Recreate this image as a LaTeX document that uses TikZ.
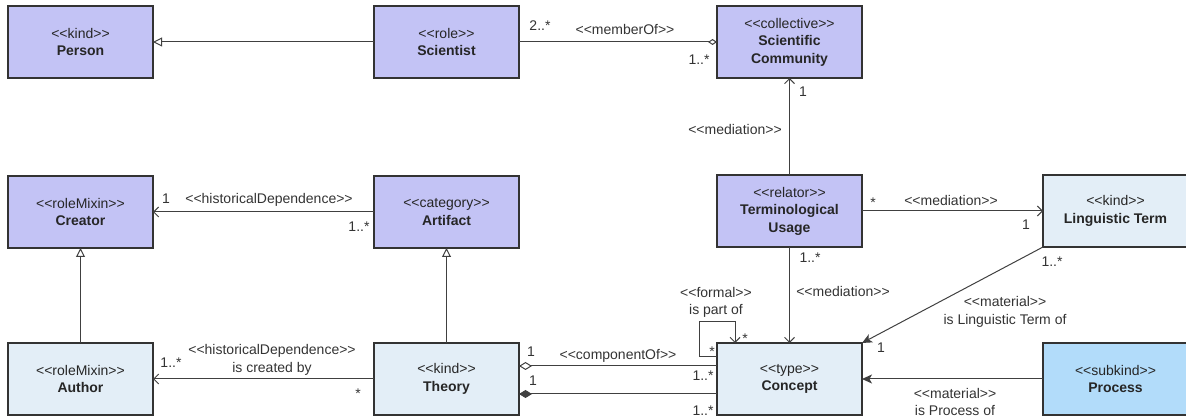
\documentclass[tikz,border=0pt]{standalone}
\usepackage{fontspec}
\setmainfont{Liberation Sans}
\usetikzlibrary{arrows.meta,positioning}
\definecolor{umlpurple}{RGB}{195,195,245}
\definecolor{umlpale}{RGB}{227,238,247}
\definecolor{umlsky}{RGB}{178,220,250}
\newcommand\stereo[1]{<\kern0pt<#1>\kern0pt>}
\tikzset{
  cls/.style    = {rectangle, draw=black!80, line width=1.2pt, fill=umlpurple,
                   minimum width=145pt, minimum height=72pt, outer sep=0pt,
                   align=center, text=black!85, inner sep=2pt,
                   font=\fontsize{14}{17.5}\selectfont},
  paleclass/.style = {cls, fill=umlpale},
  skyclass/.style  = {cls, fill=umlsky},
  lbl/.style    = {inner sep=0pt, text=black!80, text height=10pt, text depth=3pt,
                   font=\fontsize{14}{17.5}\selectfont},
  lbltwo/.style = {inner sep=0pt, text=black!80, align=center,
                   font=\fontsize{14}{17.5}\selectfont},
  conn/.style   = {draw=black!75, line width=1pt},
  gen/.style    = {conn, -{Triangle[open, length=9pt, width=9pt]}},
  assoc/.style  = {conn, -{Straight Barb[length=5pt, width=10pt]}},
  mat/.style    = {conn, -{Stealth[length=10pt, width=9pt, inset=2.5pt]}},
  member/.style = {conn, -{Diamond[open, length=9pt, width=6pt]}},
  agg/.style    = {conn, -{Diamond[open, length=13pt, width=8pt]}},
  comp/.style   = {conn, -{Diamond[length=13pt, width=8pt]}}
}
\begin{document}
\begin{tikzpicture}[x=1pt, y=-1pt]
  \useasboundingbox (0,0) rectangle (1186,419);
  \node[cls] (person) at (80.5,42) {\stereo{kind}\\\textbf{Person}};
  \node[cls, right=221pt of person] (scientist) {\stereo{role}\\\textbf{Scientist}};
  \node[cls, right=198pt of scientist] (community) {\stereo{collective}\\\textbf{Scientific}\\\textbf{Community}};
  \node[cls, below=98pt of person] (creator) {\stereo{roleMixin}\\\textbf{Creator}};
  \node[cls, right=221pt of creator] (artifact) {\stereo{category}\\\textbf{Artifact}};
  \node[paleclass, below=95pt of creator] (author) {\stereo{roleMixin}\\\textbf{Author}};
  \node[paleclass, below=95pt of artifact] (theory) {\stereo{kind}\\\textbf{Theory}};
  \node[cls, below=97pt of community] (usage) {\stereo{relator}\\\textbf{Terminological}\\\textbf{Usage}};
  \node[paleclass, right=181pt of usage] (term) {\stereo{kind}\\\textbf{Linguistic Term}};
  \node[paleclass, below=96pt of usage] (concept) {\stereo{type}\\\textbf{Concept}};
  \node[skyclass, right=181pt of concept] (process) {\stereo{subkind}\\\textbf{Process}};

  \draw[gen] (scientist) -- (person);
  \draw[member] (scientist) -- (community);
  \draw[assoc] (usage) -- (community);
  \draw[assoc] (artifact) -- (creator);
  \draw[gen] (author) -- (creator);
  \draw[gen] (theory) -- (artifact);
  \draw[assoc] (theory) -- (author);
  \draw[assoc] (usage) -- (term);
  \draw[assoc] (usage) -- (concept);
  \draw[mat] (term.south west) -- (concept.north east);
  \draw[mat] (process) -- (concept);
  \draw[agg] ([yshift=13pt]concept.west) -- ([yshift=13pt]theory.east);
  \draw[comp] ([yshift=-15pt]concept.west) -- ([yshift=-15pt]theory.east);
  \draw[assoc] ([yshift=22pt]concept.west) -- ++(-18,0) -- ++(0,-35)
    -| ([xshift=18pt]concept.north west);

  \node[lbl] (sciMult) at (540,27.5) {2..*};
  \node[lbl] (memberOf) at (625,31.5) {\stereo{memberOf}};
  \node[lbl] (comMult) at (699,61.5) {1..*};
  \node[lbl] (comOne) at (803,93.5) {1};
  \node[lbl] (medUp) at (735,131.5) {\stereo{mediation}};
  \node[lbl] (creOne) at (166,200.5) {1};
  \node[lbl] (histUp) at (269,200.5) {\stereo{historicalDependence}};
  \node[lbl] (artMult) at (359,228.5) {1..*};
  \node[lbl] (useStar) at (873,204) {*};
  \node[lbl] (medRight) at (951,202) {\stereo{mediation}};
  \node[lbl] (termOne) at (1026,226.5) {1};
  \node[lbl] (useMult) at (810,259.5) {1..*};
  \node[lbl] (termMult) at (1052,263) {1..*};
  \node[lbltwo] (matTerm) at (1005,312) {\stereo{material}\\is Linguistic Term of};
  \node[lbl] (conOne) at (881,349.5) {1};
  \node[lbltwo] (matProc) at (955,402) {\stereo{material}\\is Process of};
  \node[lbl] (medDown) at (843,293.5) {\stereo{mediation}};
  \node[lbltwo] (formal) at (716,302.5) {\stereo{formal}\\is part of};
  \node[lbl] (loopA) at (712,353) {*};
  \node[lbl] (loopB) at (745,340) {*};
  \node[lbl] (aggOne) at (531,353.5) {1};
  \node[lbl] (compOf) at (618,356.5) {\stereo{componentOf}};
  \node[lbl] (aggMult) at (703,377.5) {1..*};
  \node[lbl] (compOne) at (533,382.5) {1};
  \node[lbl] (compMult) at (703,411.5) {1..*};
  \node[lbl] (autMult) at (171,364.5) {1..*};
  \node[lbltwo] (histDown) at (272,360) {\stereo{historicalDependence}\\is created by};
  \node[lbl] (theStar) at (358,395) {*};
\end{tikzpicture}
\end{document}
